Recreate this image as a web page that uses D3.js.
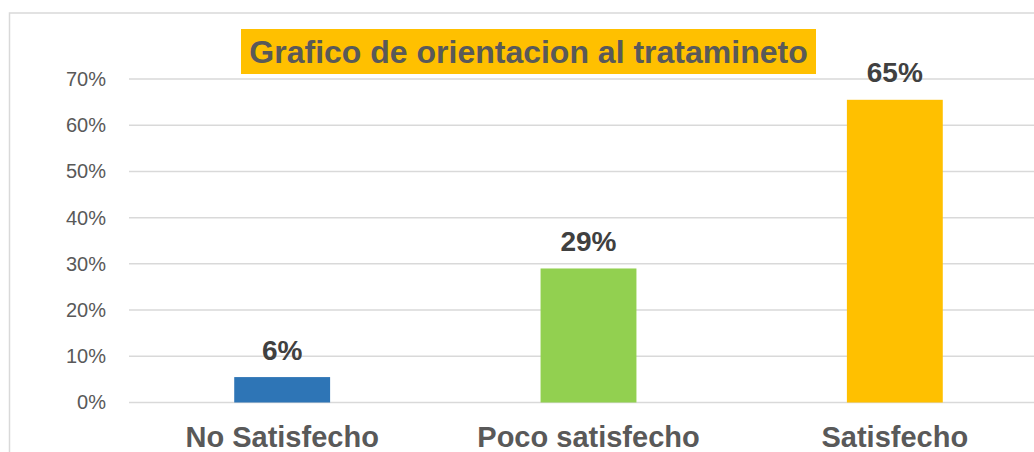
<!DOCTYPE html>
<html>
<head>
<meta charset="utf-8">
<script src="https://cdn.jsdelivr.net/npm/d3@7"></script>
<style>
  body { margin: 0; background: #fff; }
  svg { display: block; font-family: "Liberation Sans", Arial, sans-serif; }
</style>
</head>
<body>
<div id="chart"></div>
<script>
// data
let categories = ["No Satisfecho", "Poco satisfecho", "Satisfecho"];
let values = [0.055, 0.29, 0.655];
let valueLabels = ["6%", "29%", "65%"];
let barColors = ["#2E75B6", "#92D050", "#FFC000"];
let yTicks = [0, 0.1, 0.2, 0.3, 0.4, 0.5, 0.6, 0.7];
let title = "Grafico de orientacion al tratamineto";

let W = 1034, H = 452;
let margin = {top: 79, right: -14, bottom: 49, left: 129};

let svg = d3.select("#chart")
    .append("svg")
    .attr("width", W)
    .attr("height", H);

// chart border (runs off the right and bottom edge)
svg.append("rect")
    .attr("x", 9.5)
    .attr("y", 13)
    .attr("width", 1100)
    .attr("height", 600)
    .attr("fill", "none")
    .attr("stroke", "#d9d9d9")
    .attr("stroke-width", 1.5);

let xScale = d3.scaleBand()
    .domain(categories)
    .range([margin.left, W - margin.right])
    .paddingInner(0.687)
    .paddingOuter(0.687 / 2);

let yScale = d3.scaleLinear()
    .domain([0, 0.7])
    .range([H - margin.bottom - 0.5, margin.top]);

// gridlines
svg.append("g")
    .selectAll("line")
    .data(yTicks)
    .enter()
    .append("line")
    .attr("x1", margin.left)
    .attr("x2", W)
    .attr("y1", d => yScale(d))
    .attr("y2", d => yScale(d))
    .attr("stroke", "#d9d9d9")
    .attr("stroke-width", 1.5);

// y axis labels
let yAxis = svg.append("g")
    .attr("transform", "translate(" + (margin.left - 23) + ",0)")
    .call(d3.axisLeft(yScale).tickValues(yTicks).tickFormat(d3.format(".0%")).tickSize(0));

yAxis.select(".domain").remove();
yAxis.selectAll("text")
    .attr("x", 0)
    .attr("font-family", "Liberation Sans, Arial, sans-serif")
    .attr("font-size", 20)
    .attr("fill", "#595959");

// bars
svg.selectAll("rect.bar")
    .data(values)
    .enter()
    .append("rect")
    .attr("class", "bar")
    .attr("x", (d, i) => xScale(categories[i]))
    .attr("y", d => yScale(d))
    .attr("width", xScale.bandwidth())
    .attr("height", d => yScale(0) - yScale(d))
    .attr("fill", (d, i) => barColors[i]);

// value labels
svg.selectAll("text.val")
    .data(values)
    .enter()
    .append("text")
    .attr("class", "val")
    .attr("x", (d, i) => xScale(categories[i]) + xScale.bandwidth() / 2)
    .attr("y", d => yScale(d) - 17.5)
    .attr("text-anchor", "middle")
    .attr("font-size", 28)
    .attr("font-weight", "bold")
    .attr("fill", "#404040")
    .text((d, i) => valueLabels[i]);

// category labels
svg.selectAll("text.cat")
    .data(categories)
    .enter()
    .append("text")
    .attr("class", "cat")
    .attr("x", d => xScale(d) + xScale.bandwidth() / 2)
    .attr("y", 447)
    .attr("text-anchor", "middle")
    .attr("font-size", 29)
    .attr("font-weight", "bold")
    .attr("fill", "#595959")
    .text(d => d);

// title with orange box
svg.append("rect")
    .attr("x", 241)
    .attr("y", 29)
    .attr("width", 575)
    .attr("height", 45)
    .attr("fill", "#FFC000");

svg.append("text")
    .attr("x", 528.5)
    .attr("y", 63)
    .attr("text-anchor", "middle")
    .attr("font-size", 32)
    .attr("font-weight", "bold")
    .attr("fill", "#595959")
    .text(title);
</script>
</body>
</html>
